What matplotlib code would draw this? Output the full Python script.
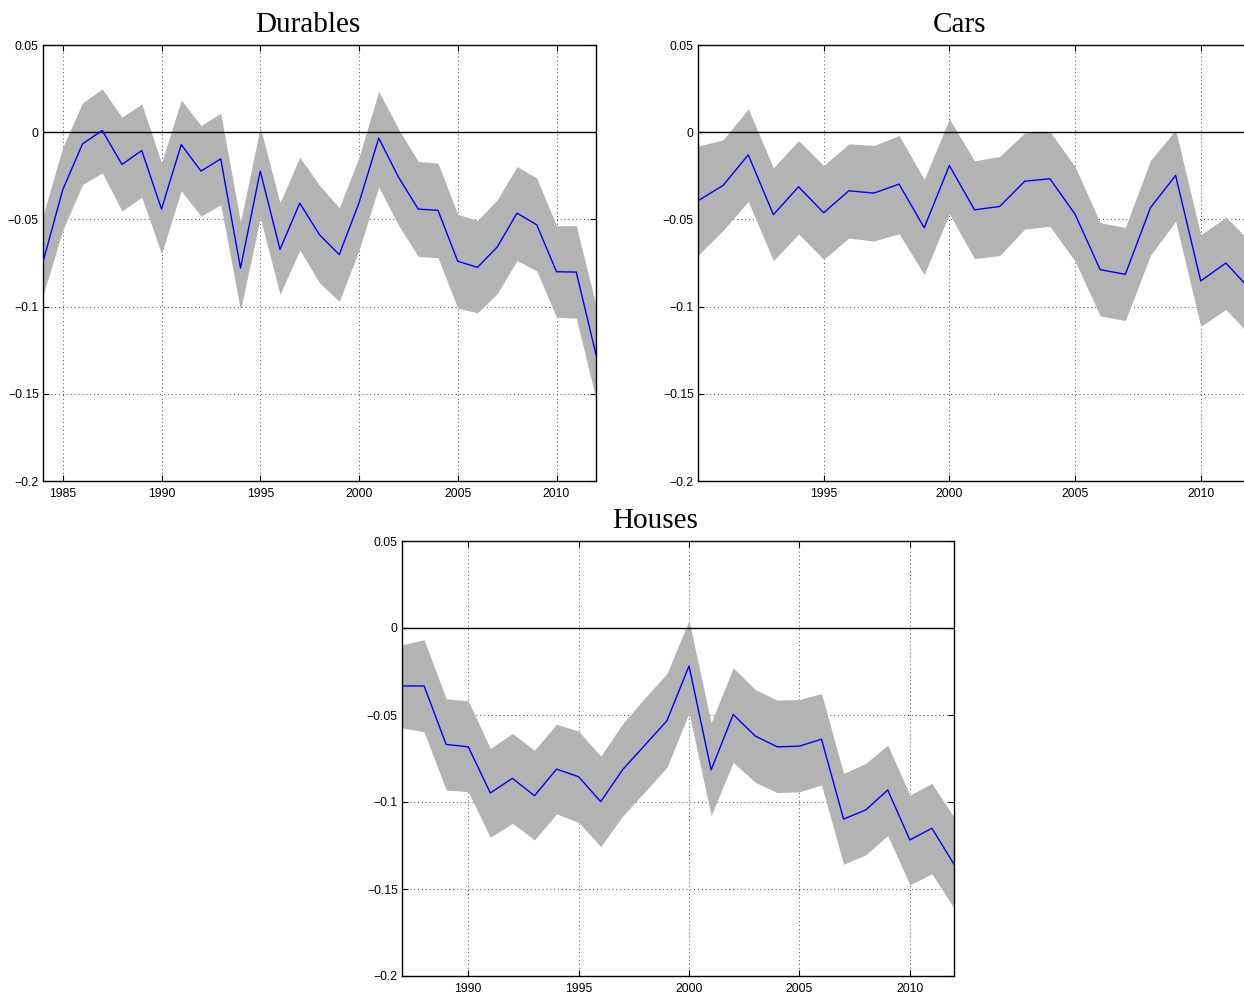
"""Recreate the durables / cars / houses coefficient panels."""
import numpy as np
import matplotlib
matplotlib.use("Agg")
import matplotlib.pyplot as plt

# ---- data ----
durables_years = list(range(1984, 2013))
durables_mid = [-0.0744, -0.033, -0.0067, 0.001, -0.0185, -0.0105, -0.0441, -0.0071,
                -0.0223, -0.0153, -0.0779, -0.0223, -0.0672, -0.0407, -0.0588, -0.0702,
                -0.0405, -0.0034, -0.0258, -0.0441, -0.0448, -0.074, -0.0775, -0.0658,
                -0.0464, -0.0531, -0.080, -0.0802, -0.1275]
durables_hi = [-0.0477, -0.0086, 0.0168, 0.0248, 0.0086, 0.0162, -0.0176, 0.0185,
               0.0038, 0.0109, -0.0515, 0.0029, -0.0405, -0.0143, -0.0305, -0.0433,
               -0.0143, 0.0235, 0.0019, -0.0168, -0.0177, -0.0471, -0.0506, -0.0387,
               -0.0197, -0.0263, -0.0536, -0.0536, -0.0992]
durables_lo = [-0.0935, -0.0563, -0.030, -0.0233, -0.0452, -0.0372, -0.0697, -0.0336,
               -0.0481, -0.0416, -0.1021, -0.049, -0.093, -0.0676, -0.0863, -0.097,
               -0.0677, -0.0313, -0.0534, -0.0712, -0.072, -0.1008, -0.1036, -0.0926,
               -0.0735, -0.0796, -0.106, -0.1067, -0.153]

cars_years = list(range(1990, 2013))
cars_mid = [-0.0393, -0.0305, -0.013, -0.0473, -0.0313, -0.0462, -0.0336, -0.0349,
            -0.0298, -0.0548, -0.0191, -0.0445, -0.0426, -0.0281, -0.0267, -0.047,
            -0.0788, -0.0815, -0.0433, -0.0248, -0.0853, -0.075, -0.0906]
cars_hi = [-0.008, -0.0044, 0.0134, -0.0204, -0.0048, -0.0191, -0.0067, -0.0076,
           -0.0019, -0.0271, 0.0076, -0.0164, -0.0139, -0.0004, 0.0004, -0.0197,
           -0.0519, -0.0546, -0.0162, 0.0013, -0.0588, -0.0487, -0.063]
cars_lo = [-0.0706, -0.0563, -0.0397, -0.0737, -0.0584, -0.0729, -0.0607, -0.0624,
           -0.0582, -0.0817, -0.0468, -0.0725, -0.0708, -0.0555, -0.054, -0.0739,
           -0.1053, -0.108, -0.0706, -0.0511, -0.1113, -0.1017, -0.1168]

houses_years = list(range(1987, 2013))
houses_mid = [-0.0333, -0.0333, -0.0669, -0.0683, -0.0948, -0.0864, -0.0964, -0.0811,
              -0.0855, -0.0998, -0.0813, -0.0673, -0.0533, -0.0218, -0.0816, -0.0497,
              -0.0621, -0.0683, -0.0679, -0.0639, -0.1098, -0.1046, -0.0931, -0.1218,
              -0.1151, -0.1358]
houses_hi = [-0.0096, -0.0067, -0.0407, -0.0419, -0.0692, -0.0606, -0.0702, -0.0553,
             -0.0593, -0.0736, -0.0549, -0.0402, -0.0262, 0.0044, -0.0545, -0.0229,
             -0.0354, -0.0415, -0.0411, -0.0377, -0.0836, -0.0778, -0.0673, -0.096,
             -0.0893, -0.1088]
houses_lo = [-0.0574, -0.0597, -0.0931, -0.0941, -0.1203, -0.1122, -0.1218, -0.1069,
             -0.1117, -0.1256, -0.108, -0.0941, -0.0801, -0.0488, -0.1078, -0.0772,
             -0.0887, -0.0946, -0.0941, -0.0902, -0.1358, -0.1304, -0.1193, -0.1476,
             -0.1413, -0.161]

ytick_vals = [-0.2, -0.15, -0.1, -0.05, 0, 0.05]
ytick_text = ["\u22120.2", "\u22120.15", "\u22120.1", "\u22120.05", "0", "0.05"]
xtick_vals = [1985, 1990, 1995, 2000, 2005, 2010]


def panel(fig, rect, title, title_x, years, mid, lo, hi):
    """Draw one band + point-estimate panel."""
    ax = fig.add_axes(rect)
    ax.set_axisbelow(True)
    ax.fill_between(years, lo, hi, color="#b3b3b3", linewidth=0, zorder=1)
    ax.plot(years, mid, color="blue", linewidth=1.0, zorder=3)
    ax.axhline(0, color="black", linewidth=1.0, zorder=2)

    ax.set_xlim(years[0], years[-1])
    ax.set_ylim(-0.2, 0.05)
    ax.set_xticks([t for t in xtick_vals if years[0] < t < years[-1]])
    ax.set_yticks(ytick_vals)
    ax.set_yticklabels(ytick_text)
    ax.grid(True, linestyle=(0, (1, 3)), color="#444444", linewidth=0.7)
    ax.tick_params(direction="in", top=True, right=True, length=4, width=0.8,
                   labelsize=8.7)
    ax.tick_params(axis="x", pad=5)
    ax.tick_params(axis="y", pad=3)
    for lab in ax.get_xticklabels() + ax.get_yticklabels():
        lab.set_family("Liberation Sans")
    for sp in ax.spines.values():
        sp.set_linewidth(1.0)
    ax.set_title(title, family="Liberation Serif", fontsize=21, pad=9, x=title_x)
    return ax


fig = plt.figure(figsize=(12.44, 9.93), dpi=100)
W, H = 1244.0, 993.0

panel(fig, [43 / W, 1 - 481 / H, 553 / W, 436 / H], "Durables", 0.479,
      durables_years, durables_mid, durables_lo, durables_hi)
panel(fig, [698 / W, 1 - 481 / H, 553 / W, 436 / H], "Cars", 0.472,
      cars_years, cars_mid, cars_lo, cars_hi)
panel(fig, [402 / W, 1 - 976 / H, 552 / W, 435 / H], "Houses", 0.459,
      houses_years, houses_mid, houses_lo, houses_hi)

fig.savefig("out.png", dpi=100)
